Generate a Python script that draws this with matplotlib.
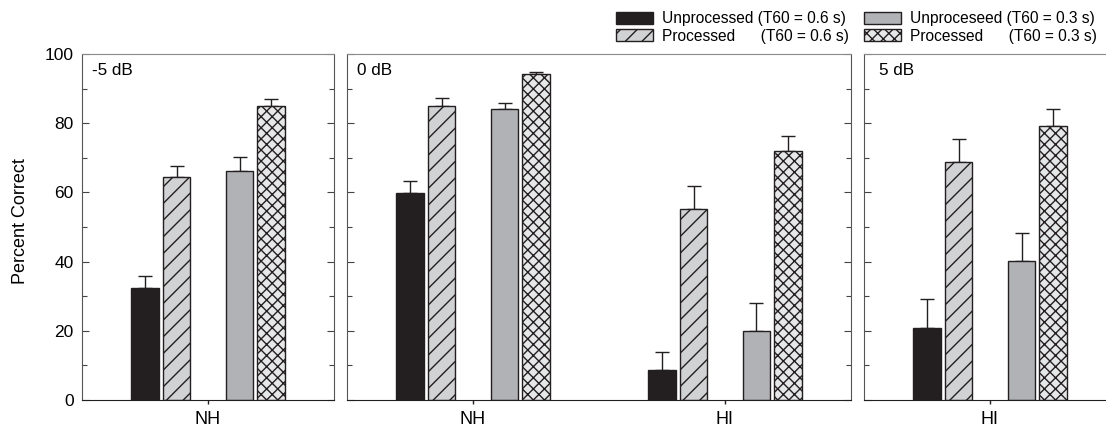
import matplotlib
matplotlib.use("Agg")
import matplotlib.pyplot as plt
from matplotlib.patches import Patch

plt.rcParams['font.family'] = ['Liberation Sans', 'DejaVu Sans']
plt.rcParams['hatch.linewidth'] = 1.0

# datos (barras y barra de error superior)
condiciones = ['Unprocessed (T60 = 0.6 s)', 'Processed      (T60 = 0.6 s)',
               'Unproceseed (T60 = 0.3 s)', 'Processed      (T60 = 0.3 s)']
paneles = ['-5 dB', '0 dB', '5 dB']
grupos = [['NH'], ['NH', 'HI'], ['HI']]

nh_m5 = [32.3, 64.4, 66.1, 84.9]
nh_m5_err = [3.6, 3.2, 4.1, 2.2]
nh_0 = [59.9, 85.1, 84.2, 94.2]
nh_0_err = [3.5, 2.3, 1.7, 0.5]
hi_0 = [8.7, 55.1, 19.9, 71.9]
hi_0_err = [5.2, 6.8, 8.0, 4.5]
hi_5 = [20.8, 68.9, 40.3, 79.1]
hi_5_err = [8.5, 6.6, 7.9, 5.1]

datos = [[(nh_m5, nh_m5_err)], [(nh_0, nh_0_err), (hi_0, hi_0_err)], [(hi_5, hi_5_err)]]

colores = ['#231f20', '#d1d2d4', '#b1b2b5', '#e6e7e8']
tramas = ['', '//', '', 'xxx']
desplaz = [-0.5, -0.25, 0.25, 0.5]
ancho = 0.215
borde = '#231f20'

fig = plt.figure(figsize=(11.06, 4.29), dpi=100)

W, H = 1106.0, 429.0
y0 = 1 - 400 / H
alto = (400 - 54) / H
posiciones = [
    [82 / W, y0, 252 / W, alto],
    [347 / W, y0, 504 / W, alto],
    [864 / W, y0, 252 / W, alto],
]
pos_etiqueta = [0.0385, 0.02, 0.06]

for i, pos in enumerate(posiciones):
    ax = fig.add_axes(pos)
    n = len(grupos[i])
    centros = [1 + 2 * k for k in range(n)]
    for k, (vals, errs) in enumerate(datos[i]):
        for j in range(4):
            x = centros[k] + desplaz[j]
            ax.bar(x, vals[j], width=ancho, color=colores[j], edgecolor=borde,
                   hatch=tramas[j], linewidth=1, zorder=2)
            ax.errorbar(x, vals[j], yerr=[[0], [errs[j]]], fmt='none',
                        ecolor=borde, elinewidth=1, capsize=5, capthick=1, zorder=1)
    ax.set_xlim(0, 2 * n)
    ax.set_ylim(0, 100)
    ax.set_xticks(centros)
    ax.set_xticklabels(grupos[i], fontsize=13)
    ax.tick_params(axis='x', direction='out', length=3, width=1, pad=5, color=borde)
    ax.set_yticks(range(0, 101, 20))
    ax.set_yticks(range(10, 100, 20), minor=True)
    derecha = i != 2
    ax.tick_params(axis='y', which='major', direction='in', length=5, width=0.8,
                   left=True, right=derecha, color='#444444', labelsize=12.5, pad=6)
    ax.tick_params(axis='y', which='minor', direction='in', length=3.6, width=0.8,
                   left=True, right=derecha, color='#444444')
    if i != 0:
        ax.set_yticklabels([])
    ax.spines['left'].set_color('#555555')
    ax.spines['right'].set_color('#555555')
    ax.spines['right'].set_visible(derecha)
    ax.spines['top'].set_color('#8a8a8a')
    ax.spines['bottom'].set_color(borde)
    ax.text(pos_etiqueta[i], 0.975, paneles[i], transform=ax.transAxes,
            fontsize=12.3, va='top', ha='left')

fig.text(21 / W, 1 - 221.5 / H, 'Percent Correct', rotation=90, fontsize=13,
         ha='center', va='center')

handles = [Patch(facecolor=colores[j], edgecolor=borde, hatch=tramas[j], linewidth=1)
           for j in range(4)]
fig.legend(handles, condiciones, loc='upper left', bbox_to_anchor=(616 / W, 1 - 11.5 / H),
           ncol=2, frameon=False, fontsize=11.2, borderpad=0, borderaxespad=0,
           handlelength=2.35, handleheight=0.8, handletextpad=0.6,
           columnspacing=1.0, labelspacing=0.15)

fig.savefig('out.png', dpi=100)
